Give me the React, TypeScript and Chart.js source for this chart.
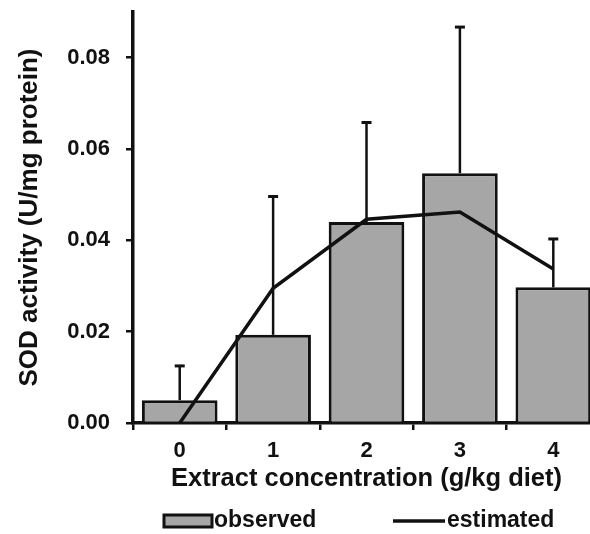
import React, { useEffect, useRef } from 'react';
import { Chart, registerables } from 'chart.js';

Chart.register(...registerables);

const categories = ['0', '1', '2', '3', '4'];
const observed = [0.005, 0.0193, 0.044, 0.0547, 0.0297];
const observedErr = [0.0075, 0.0303, 0.0218, 0.032, 0.0106];
const estimated = [0, 0.0295, 0.0446, 0.0462, 0.0337];
const yTickValues = [0, 0.02, 0.04, 0.06, 0.08];
const legendLabels = ['observed', 'estimated'];

const FONT = "'Liberation Sans', Arial, sans-serif";
const BAR_FILL = '#a6a6a6';
const INK = '#111';

const errorBarPlugin = {
  id: 'errorBars',
  afterDatasetDraw(chart: any, args: any) {
    if (args.index !== 0) return;
    const ctx = chart.ctx;
    const yScale = chart.scales.y;
    const meta = chart.getDatasetMeta(0);
    ctx.save();
    ctx.strokeStyle = INK;
    meta.data.forEach((bar: any, i: number) => {
      const x = bar.x;
      const base = bar.y;
      const top = yScale.getPixelForValue(observed[i] + observedErr[i]);
      ctx.lineWidth = 2.5;
      ctx.beginPath();
      ctx.moveTo(x, base);
      ctx.lineTo(x, top);
      ctx.stroke();
      ctx.lineWidth = 3;
      ctx.beginPath();
      ctx.moveTo(x - 5, top);
      ctx.lineTo(x + 5, top);
      ctx.stroke();
    });
    ctx.restore();
  },
};

const legendPlugin = {
  id: 'customLegend',
  afterDraw(chart: any) {
    const ctx = chart.ctx;
    const cy = chart.height - 13;
    ctx.save();
    ctx.font = `bold 23px ${FONT}`;
    ctx.textBaseline = 'middle';
    const bx = 164;
    ctx.fillStyle = BAR_FILL;
    ctx.fillRect(bx, cy - 6, 48, 12);
    ctx.strokeStyle = INK;
    ctx.lineWidth = 3;
    ctx.strokeRect(bx, cy - 6, 48, 12);
    ctx.fillStyle = INK;
    ctx.fillText(legendLabels[0], bx + 50, cy);
    const lx = 393;
    ctx.lineWidth = 3.5;
    ctx.beginPath();
    ctx.moveTo(lx, cy);
    ctx.lineTo(lx + 52, cy);
    ctx.stroke();
    ctx.fillText(legendLabels[1], lx + 54, cy);
    ctx.restore();
  },
};

export default function App() {
  const ref = useRef<HTMLCanvasElement>(null);
  useEffect(() => {
    if (!ref.current) return;
    const chart = new Chart(ref.current, {
      type: 'bar',
      data: {
        labels: categories,
        datasets: [
          {
            type: 'bar',
            label: 'observed',
            data: observed,
            backgroundColor: BAR_FILL,
            borderColor: INK,
            borderWidth: 3,
            barPercentage: 0.81,
            categoryPercentage: 1,
            order: 2,
          },
          {
            type: 'line',
            label: 'estimated',
            data: estimated,
            borderColor: INK,
            backgroundColor: INK,
            borderWidth: 3.5,
            pointRadius: 0,
            tension: 0,
            order: 1,
          } as any,
        ],
      },
      options: {
        responsive: false,
        animation: false,
        layout: { padding: { left: 10, right: 10, top: 0, bottom: 36 } },
        plugins: {
          legend: { display: false },
          tooltip: { enabled: false },
        },
        scales: {
          x: {
            grid: {
              display: true,
              drawOnChartArea: false,
              drawTicks: true,
              tickLength: 7,
              color: INK,
              lineWidth: 2.5,
              offset: true,
            },
            border: { display: true, color: INK, width: 3.5 },
            ticks: {
              color: INK,
              padding: 8,
              font: { family: FONT, size: 22, weight: 'bold' },
            },
            title: {
              display: true,
              text: 'Extract concentration (g/kg diet)',
              color: INK,
              font: { family: FONT, size: 25.5, weight: 'bold' },
              padding: { top: -9, bottom: 4 },
            },
          },
          y: {
            min: 0,
            max: 0.09,
            afterBuildTicks: (scale: any) => {
              scale.ticks = yTickValues.map((v) => ({ value: v }));
            },
            afterFit: (scale: any) => {
              scale.paddingTop = 12;
            },
            grid: {
              display: true,
              drawOnChartArea: false,
              drawTicks: true,
              tickLength: 7,
              color: INK,
              lineWidth: 2.5,
            },
            border: { display: true, color: INK, width: 3.5 },
            ticks: {
              color: INK,
              padding: 16,
              font: { family: FONT, size: 22, weight: 'bold' },
              callback: (v: any) => Number(v).toFixed(2),
            },
            title: {
              display: true,
              text: 'SOD activity (U/mg protein)',
              color: INK,
              font: { family: FONT, size: 26, weight: 'bold' },
              padding: { top: 4, bottom: 6 },
            },
          },
        },
      },
      plugins: [errorBarPlugin, legendPlugin],
    });
    return () => chart.destroy();
  }, []);

  return (
    <div
      style={{
        position: 'absolute',
        left: 0,
        top: 0,
        width: 590,
        height: 534,
        overflow: 'hidden',
        background: '#fff',
      }}
    >
      <canvas ref={ref} width={610} height={534} style={{ display: 'block' }} />
    </div>
  );
}
